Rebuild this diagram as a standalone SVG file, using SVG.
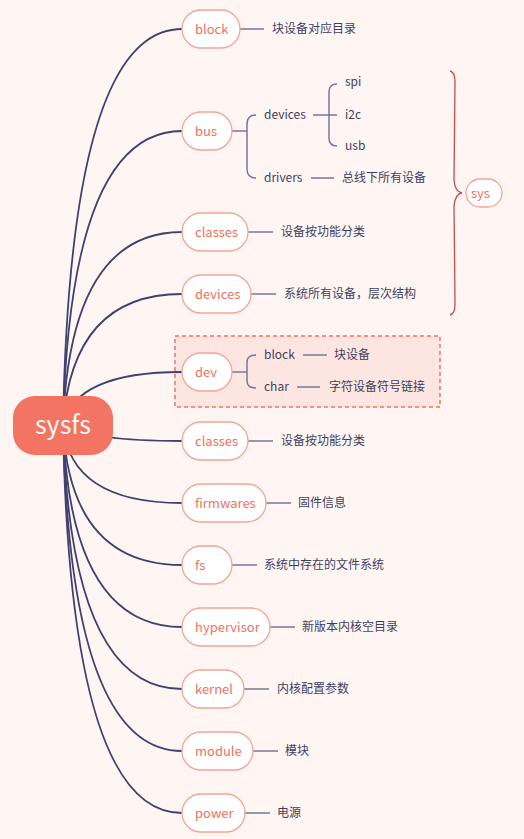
<svg xmlns="http://www.w3.org/2000/svg" width="524" height="839" viewBox="0 0 524 839">
<style>
.bg{fill:#FFF6F4}
.main{fill:none;stroke:#3F416E;stroke-width:1.8}
.sub{fill:none;stroke:#77779A;stroke-width:1.5}
.node{fill:#FFFFFF;stroke:#F4A595;stroke-width:1.3}
.nt{font-family:"Noto Sans CJK SC","Liberation Sans",sans-serif;font-size:13px;fill:#F2715D}
.lt{font-family:"Noto Sans CJK SC","Liberation Sans",sans-serif;font-size:12px;fill:#3E3F60}
.brace{fill:none;stroke:#C94B4B;stroke-width:1.3}
</style>
<rect class="bg" x="0" y="0" width="524" height="839"/>
<g id="dev-boundary">
<rect x="175" y="336" width="265" height="71" fill="#FDE6E2" stroke="#F07262" stroke-width="1.5" stroke-dasharray="4,3"/>
</g>
<g id="connectors">
<path class="main" d="M63 425 Q70 29 182 29"/>
<path class="main" d="M63 425 Q70 131 182 131"/>
<path class="main" d="M63 425 Q70 232 182 232"/>
<path class="main" d="M63 425 Q72 294 182 294"/>
<path class="main" d="M63 425 Q75 372 182 372"/>
<path class="main" d="M63 425 Q90 441 182 441"/>
<path class="main" d="M63 425 Q70 503 182 503"/>
<path class="main" d="M63 425 Q70 565 182 565"/>
<path class="main" d="M63 425 Q70 627 182 627"/>
<path class="main" d="M63 425 Q70 689 182 689"/>
<path class="main" d="M63 425 Q70 751 182 751"/>
<path class="main" d="M63 425 Q70 813 182 813"/>
<line class="sub" x1="240" y1="29" x2="264" y2="29"/>
<line class="sub" x1="248" y1="232" x2="273" y2="232"/>
<line class="sub" x1="251" y1="294" x2="276" y2="294"/>
<line class="sub" x1="248" y1="441" x2="273" y2="441"/>
<line class="sub" x1="266" y1="503" x2="291" y2="503"/>
<line class="sub" x1="232" y1="565" x2="257" y2="565"/>
<line class="sub" x1="270" y1="627" x2="295" y2="627"/>
<line class="sub" x1="244" y1="689" x2="269" y2="689"/>
<line class="sub" x1="253" y1="751" x2="278" y2="751"/>
<line class="sub" x1="245" y1="813" x2="270" y2="813"/>
<line class="sub" x1="232" y1="131" x2="247" y2="131"/>
<path class="sub" d="M256 115 Q247 115 247 124 L247 169 Q247 178 256 178"/>
<line class="sub" x1="313" y1="115" x2="337" y2="115"/>
<path class="sub" d="M337 84 Q329 84 329 92 L329 138 Q329 146 337 146"/>
<line class="sub" x1="311" y1="178" x2="334" y2="178"/>
<line class="sub" x1="232" y1="372" x2="247" y2="372"/>
<path class="sub" d="M256 355 Q247 355 247 362 L247 381 Q247 388 256 388"/>
<line class="sub" x1="303" y1="355" x2="327" y2="355"/>
<line class="sub" x1="297" y1="387" x2="320" y2="387"/>
<path class="brace" d="M450 71 Q455 72 455 82 L454 180 Q455 192 462 193 Q455 194 454 206 L455 304 Q455 314 450 315"/>
</g>
<g id="root">
<rect x="13" y="396" width="100" height="59" rx="22" fill="#F37462"/>
<text x="63" y="434" text-anchor="middle" font-family="Noto Sans CJK SC,Liberation Sans,sans-serif" font-size="25" fill="#FFF8F2">sysfs</text>
</g>
<g id="n-block"><rect class="node" x="182" y="10" width="58" height="38" rx="19"/><text class="nt" x="195" y="33.5">block</text><text class="lt" x="272" y="33">块设备对应目录</text></g>
<g id="n-bus"><rect class="node" x="182" y="112" width="50" height="38" rx="19"/><text class="nt" x="195" y="135.5">bus</text></g>
<g id="n-bus-devices"><text class="lt" x="264" y="119">devices</text></g>
<g id="n-spi"><text class="lt" x="345" y="86">spi</text></g>
<g id="n-i2c"><text class="lt" x="345" y="119">i2c</text></g>
<g id="n-usb"><text class="lt" x="345" y="150">usb</text></g>
<g id="n-drivers"><text class="lt" x="264" y="182">drivers</text><text class="lt" x="342" y="182">总线下所有设备</text></g>
<g id="n-classes"><rect class="node" x="182" y="213" width="66" height="38" rx="19"/><text class="nt" x="195" y="236.5">classes</text><text class="lt" x="281" y="236">设备按功能分类</text></g>
<g id="n-devices"><rect class="node" x="182" y="275" width="69" height="38" rx="19"/><text class="nt" x="195" y="298.5">devices</text><text class="lt" x="284" y="298">系统所有设备，层次结构</text></g>
<g id="n-sys"><rect x="466" y="179" width="36" height="28" rx="14" fill="#FFFFFF" stroke="#F4A595" stroke-width="1.3"/><text class="nt" x="471" y="197.5">sys</text></g>
<g id="n-dev"><rect class="node" x="182" y="353" width="50" height="38" rx="19"/><text class="nt" x="195" y="376.5">dev</text></g>
<g id="n-dev-block"><text class="lt" x="264" y="359">block</text><text class="lt" x="334" y="359">块设备</text></g>
<g id="n-dev-char"><text class="lt" x="264" y="391">char</text><text class="lt" x="329" y="391">字符设备符号链接</text></g>
<g id="n-classes2"><rect class="node" x="182" y="422" width="66" height="38" rx="19"/><text class="nt" x="195" y="445.5">classes</text><text class="lt" x="281" y="445">设备按功能分类</text></g>
<g id="n-firmwares"><rect class="node" x="182" y="484" width="84" height="38" rx="19"/><text class="nt" x="195" y="507.5">firmwares</text><text class="lt" x="298" y="507">固件信息</text></g>
<g id="n-fs"><rect class="node" x="182" y="546" width="50" height="38" rx="19"/><text class="nt" x="195" y="569.5">fs</text><text class="lt" x="264" y="569">系统中存在的文件系统</text></g>
<g id="n-hypervisor"><rect class="node" x="182" y="608" width="88" height="38" rx="19"/><text class="nt" x="195" y="631.5">hypervisor</text><text class="lt" x="302" y="631">新版本内核空目录</text></g>
<g id="n-kernel"><rect class="node" x="182" y="670" width="62" height="38" rx="19"/><text class="nt" x="195" y="693.5">kernel</text><text class="lt" x="277" y="693">内核配置参数</text></g>
<g id="n-module"><rect class="node" x="182" y="732" width="71" height="38" rx="19"/><text class="nt" x="195" y="755.5">module</text><text class="lt" x="285" y="755">模块</text></g>
<g id="n-power"><rect class="node" x="182" y="794" width="63" height="38" rx="19"/><text class="nt" x="195" y="817.5">power</text><text class="lt" x="277" y="817">电源</text></g>
</svg>
